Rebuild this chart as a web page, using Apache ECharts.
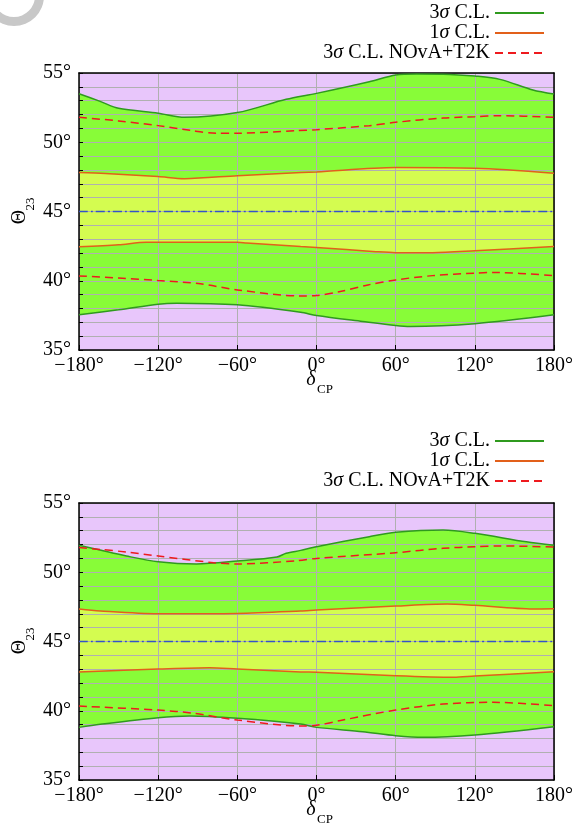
<!DOCTYPE html>
<html>
<head>
<meta charset="utf-8">
<script src="https://cdn.jsdelivr.net/npm/echarts@6/dist/echarts.min.js"></script>
<style>
  html, body { margin: 0; padding: 0; background: #fff; }
  #main { width: 588px; height: 834px; }
</style>
</head>
<body>
<div id="main"></div>
<script>
// ticks
var xTicks = [-180, -120, -60, 0, 60, 120, 180];
var yTicks = [35, 40, 45, 50, 55];
var maxMixing = [[-180, 45], [180, 45]];

// upper panel  [deltaCP, theta23]
var top3sUp = [[-180, 53.5], [-164, 52.95], [-150, 52.45], [-120, 52.1], [-100, 51.8], [-60, 52.14], [-23, 53.1], [0, 53.53], [40, 54.37], [60, 54.86], [76, 54.93], [101, 54.9], [120, 54.78], [139, 54.54], [164, 53.77], [180, 53.48]];
var top1sUp = [[-180, 47.81], [-160, 47.75], [-120, 47.52], [-100, 47.37], [-60, 47.59], [-23, 47.76], [0, 47.86], [60, 48.17], [120, 48.12], [180, 47.76]];
var top1sLo = [[-180, 42.45], [-150, 42.6], [-129, 42.78], [-60, 42.78], [-53, 42.73], [-12, 42.47], [0, 42.4], [45, 42.1], [60, 42.03], [88, 42.03], [120, 42.16], [180, 42.47]];
var top3sLo = [[-180, 37.54], [-150, 37.9], [-120, 38.31], [-106, 38.38], [-60, 38.26], [-12, 37.73], [0, 37.49], [35, 37.06], [60, 36.77], [71, 36.7], [120, 36.9], [180, 37.54]];
var topNovaUp = [[-180, 51.8], [-150, 51.54], [-120, 51.2], [-96, 50.86], [-76, 50.65], [-60, 50.65], [-15, 50.84], [0, 50.91], [40, 51.2], [60, 51.44], [96, 51.75], [120, 51.85], [139, 51.92], [180, 51.8]];
var topNovaLo = [[-180, 40.35], [-150, 40.2], [-120, 40.02], [-88, 39.78], [-60, 39.34], [-12, 38.9], [0, 38.93], [18, 39.22], [39, 39.7], [60, 40.06], [88, 40.37], [120, 40.55], [134, 40.6], [180, 40.37]];

// lower panel
var bot3sUp = [[-180, 51.95], [-164, 51.6], [-144, 51.17], [-120, 50.76], [-91, 50.6], [-60, 50.81], [-30, 51.1], [-23, 51.37], [-12, 51.58], [0, 51.84], [40, 52.57], [60, 52.88], [96, 53.05], [120, 52.81], [159, 52.2], [180, 51.95]];
var bot1sUp = [[-180, 47.35], [-164, 47.2], [-120, 47.0], [-60, 47.03], [-12, 47.2], [0, 47.27], [60, 47.56], [99, 47.71], [120, 47.61], [164, 47.35], [180, 47.37]];
var bot1sLo = [[-180, 42.8], [-120, 43.01], [-81, 43.11], [-60, 43.01], [-12, 42.8], [0, 42.78], [60, 42.52], [104, 42.41], [120, 42.51], [180, 42.81]];
var bot3sLo = [[-180, 38.8], [-164, 39.02], [-120, 39.5], [-96, 39.62], [-60, 39.45], [-12, 39.04], [0, 38.8], [35, 38.49], [60, 38.2], [81, 38.08], [120, 38.25], [180, 38.85]];
var botNovaUp = [[-180, 51.78], [-164, 51.65], [-144, 51.46], [-120, 51.17], [-78, 50.69], [-60, 50.6], [-15, 50.83], [0, 51.0], [60, 51.41], [96, 51.73], [120, 51.84], [139, 51.9], [180, 51.82]];
var botNovaLo = [[-180, 40.34], [-120, 40.05], [-93, 39.82], [-60, 39.33], [-12, 38.9], [0, 38.95], [20, 39.33], [60, 40.05], [96, 40.48], [134, 40.61], [180, 40.37]];

var names = ['3σ C.L.', '1σ C.L.', '3σ C.L. NOvA+T2K'];

var FONT = 'Liberation Serif';
var PURPLE = '#e8c6fb', GREEN = '#88fc38', YELLOW = '#d4fc50';
var C3 = '#2f9a1e', C1 = '#e2601a', CN = '#ee1a1e', CB = '#3553c8';
var GRIDC = '#b0b0b0';

var myChart = echarts.init(document.getElementById('main'));

function fmtX(v) { return (v < 0 ? '\u2212' + (-v) : v) + '°'; }

function xAxes(gi) {
    return [{
        gridIndex: gi, type: 'value', position: 'bottom', min: xTicks[0], max: xTicks[xTicks.length - 1], interval: 60, z: 3,
        axisLine: { show: true, lineStyle: { color: '#000', width: 1.5 } },
        axisTick: { show: true, inside: true, length: 5, lineStyle: { color: '#000' } },
        axisLabel: { margin: 6, color: '#000', fontFamily: FONT, fontSize: 20, formatter: fmtX, showMinLabel: true, showMaxLabel: true },
        splitLine: { show: true, lineStyle: { color: GRIDC, width: 1 } }
    }, {
        gridIndex: gi, type: 'value', position: 'top', min: -180, max: 180, interval: 60, z: 3,
        axisLine: { show: true, onZero: false, lineStyle: { color: '#000', width: 1.5 } },
        axisTick: { show: false }, axisLabel: { show: false }, splitLine: { show: false }
    }];
}

function yAxes(gi) {
    return [{
        gridIndex: gi, type: 'value', position: 'left', min: yTicks[0], max: yTicks[yTicks.length - 1], interval: 5, z: 3,
        axisLine: { show: true, onZero: false, lineStyle: { color: '#000', width: 1.5 } },
        axisTick: { show: true, inside: true, length: 4, lineStyle: { color: '#000' } },
        minorTick: { show: true, splitNumber: 5, length: 4, lineStyle: { color: '#000' } },
        axisLabel: { margin: 8, color: '#000', fontFamily: FONT, fontSize: 20, formatter: '{value}°' },
        splitLine: { show: true, lineStyle: { color: GRIDC, width: 1 } },
        minorSplitLine: { show: true, lineStyle: { color: GRIDC, width: 1 } }
    }, {
        gridIndex: gi, type: 'value', position: 'right', min: 35, max: 55, interval: 5, z: 3,
        axisLine: { show: true, onZero: false, lineStyle: { color: '#000', width: 1.5 } },
        axisTick: { show: false }, axisLabel: { show: false }, splitLine: { show: false }
    }];
}

function area(data, color, xi, yi) {
    return {
        type: 'line', data: data, xAxisIndex: xi, yAxisIndex: yi, smooth: 0.3, symbol: 'none', silent: true, z: 2,
        lineStyle: { width: 0 }, areaStyle: { color: color, opacity: 1, origin: 'start' }
    };
}

function curve(name, data, color, type, xi, yi) {
    return {
        name: name, type: 'line', data: data, xAxisIndex: xi, yAxisIndex: yi, smooth: 0.3, symbol: 'none', silent: true, z: 4,
        lineStyle: { color: color, width: 1.5, type: type }, itemStyle: { color: color }
    };
}

function panel(xi, yi, s3u, s1u, s1l, s3l, nu, nl) {
    return [
        area(s3u, GREEN, xi, yi),
        area(s1u, YELLOW, xi, yi),
        area(s1l, GREEN, xi, yi),
        area(s3l, PURPLE, xi, yi),
        curve(names[0], s3u, C3, 'solid', xi, yi),
        curve(names[0], s3l, C3, 'solid', xi, yi),
        curve(names[1], s1u, C1, 'solid', xi, yi),
        curve(names[1], s1l, C1, 'solid', xi, yi),
        curve(names[2], nu, CN, [8, 5], xi, yi),
        curve(names[2], nl, CN, [8, 5], xi, yi),
        curve('max', maxMixing, CB, [9, 3, 2, 3], xi, yi)
    ];
}

function legend(top) {
    return {
        top: top, right: 38, orient: 'vertical', align: 'right', itemWidth: 49, itemHeight: 10, itemGap: 0,
        selectedMode: false, data: names,
        itemStyle: { opacity: 0 },
        formatter: function (n) { return n.replace('σ', '{i|σ}'); },
        textStyle: {
            color: '#000', fontFamily: FONT, fontSize: 20, lineHeight: 20,
            rich: { i: { fontFamily: FONT, fontSize: 20, fontStyle: 'italic', color: '#000' } }
        }
    };
}

function labels(dy) {
    return [
        { type: 'text', x: 20, y: 217 + dy, rotation: Math.PI / 2, style: { text: 'Θ', font: '20px ' + FONT, fill: '#000', align: 'center', verticalAlign: 'middle' } },
        { type: 'text', x: 31, y: 204 + dy, rotation: Math.PI / 2, style: { text: '23', font: '13px ' + FONT, fill: '#000', align: 'center', verticalAlign: 'middle' } },
        { type: 'text', x: 311, y: 380 + dy, style: { text: 'δ', font: 'italic 20px ' + FONT, fill: '#000', align: 'center', verticalAlign: 'middle' } },
        { type: 'text', x: 325, y: 390 + dy, style: { text: 'CP', font: '13px ' + FONT, fill: '#000', align: 'center', verticalAlign: 'middle' } }
    ];
}

var option = {
    animation: false,
    backgroundColor: '#fff',
    grid: [
        { left: 79, right: 34, top: 73, height: 277, show: true, backgroundColor: PURPLE, borderWidth: 0 },
        { left: 79, right: 34, top: 503, height: 277, show: true, backgroundColor: PURPLE, borderWidth: 0 }
    ],
    legend: [legend(-2), legend(426)],
    xAxis: xAxes(0).concat(xAxes(1)),
    yAxis: yAxes(0).concat(yAxes(1)),
    series: panel(0, 0, top3sUp, top1sUp, top1sLo, top3sLo, topNovaUp, topNovaLo)
        .concat(panel(2, 2, bot3sUp, bot1sUp, bot1sLo, bot3sLo, botNovaUp, botNovaLo)),
    graphic: [
        { type: 'ring', shape: { cx: 14, cy: -4, r: 30, r0: 21 }, style: { fill: '#c8c8c8' }, silent: true }
    ].concat(labels(0)).concat(labels(430))
};

myChart.setOption(option);
window.addEventListener('resize', function () { myChart.resize(); });
</script>
</body>
</html>
